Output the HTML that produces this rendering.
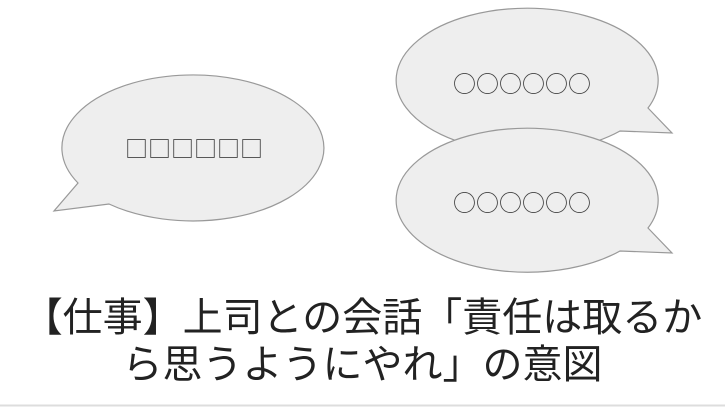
<!DOCTYPE html>
<html><head><meta charset="utf-8"><style>
html,body{margin:0;padding:0;background:#fff;}
body{width:725px;height:408px;position:relative;overflow:hidden;}
svg{position:absolute;left:0;top:0;}
.t{position:absolute;left:0;width:725px;text-align:center;font-family:"Liberation Sans","Noto Sans CJK JP",sans-serif;font-size:40px;color:#222;line-height:48px;white-space:nowrap;}
</style></head><body>
<svg width="725" height="408" viewBox="0 0 725 408">
<g fill="#eeeeee" stroke="#999" stroke-width="1.2">
<path d="M78,183 A131,73 0 1 1 109,204 L54,211 Z"/>
<path d="M648,108 A131,72 0 1 0 620,131 L672,133 Z"/>
<path d="M648,228 A131,72 0 1 0 620,251 L672,253 Z"/>
</g>
<g font-family="Noto Sans CJK JP,sans-serif" font-size="23" fill="#444" text-anchor="middle">
<text x="194" y="157">□□□□□□</text>
<text x="522" y="92">○○○○○○</text>
<text x="522" y="211">○○○○○○</text>
</g>
<line x1="0" y1="405.5" x2="725" y2="405.5" stroke="#ddd" stroke-width="2"/>
</svg>
<div class="t" style="top:294px">【仕事】上司との会話「責任は取るか</div>
<div class="t" style="top:341px">ら思うようにやれ」の意図</div>
</body></html>
